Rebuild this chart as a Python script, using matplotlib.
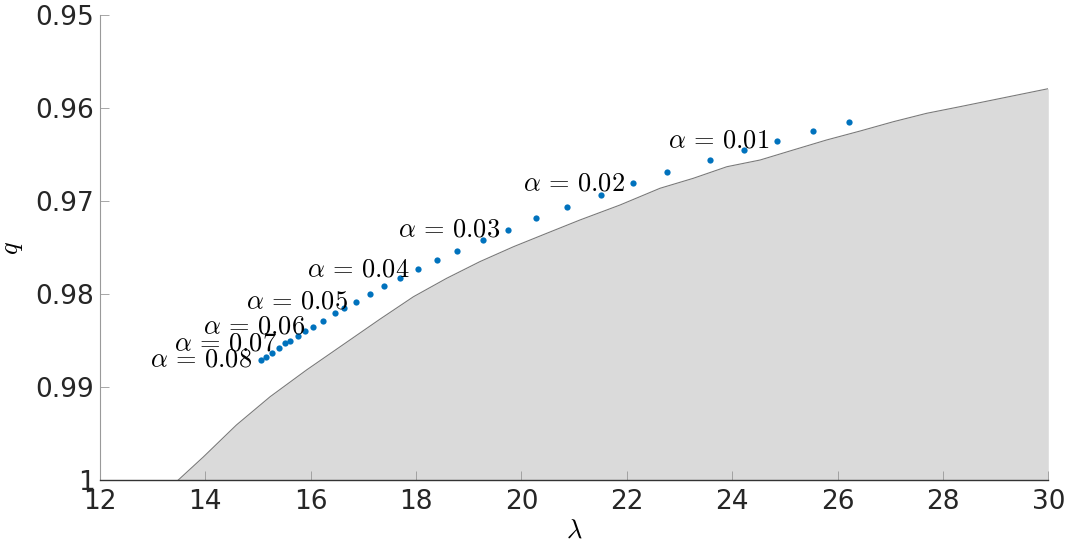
import numpy as np
import matplotlib
matplotlib.use('Agg')
import matplotlib.pyplot as plt

plt.rcParams['mathtext.fontset'] = 'cm'
plt.rcParams['font.family'] = ['DejaVu Sans']

# boundary of the shaded region (lambda, q)
bound_lam = [13.48, 13.96, 14.59, 15.23, 15.92, 17.31, 17.95, 18.58, 19.21, 19.85,
             20.48, 21.11, 21.87, 22.63, 23.26, 23.90, 24.53, 25.16, 25.79, 26.43,
             27.06, 27.69, 28.32, 30.0]
bound_q = [1.0, 0.99750, 0.99405, 0.99101, 0.98814, 0.98269, 0.98026, 0.97828, 0.97649, 0.97488,
           0.97344, 0.97201, 0.97040, 0.96860, 0.96753, 0.96628, 0.96556, 0.96448, 0.96341, 0.96244,
           0.96144, 0.96054, 0.95983, 0.95789]

# computed points (alpha from 0.08 down in steps of 0.0025)
pt_lam = [15.050, 15.151, 15.259, 15.403, 15.512, 15.607, 15.764, 15.891, 16.049, 16.227,
          16.461, 16.632, 16.859, 17.125, 17.391, 17.694, 18.042, 18.402, 18.782, 19.276,
          19.750, 20.276, 20.870, 21.504, 22.123, 22.768, 23.579, 24.224, 24.856, 25.540,
          26.223]
pt_q = [0.98706, 0.98674, 0.98628, 0.98581, 0.98527, 0.98499, 0.98445, 0.98391, 0.98348, 0.98284,
        0.98204, 0.98151, 0.98080, 0.97997, 0.97911, 0.97828, 0.97731, 0.97634, 0.97538, 0.97416,
        0.97305, 0.97183, 0.97058, 0.96932, 0.96806, 0.96689, 0.96561, 0.96448, 0.96348, 0.96244,
        0.96144]

# labelled points: index into the point lists and alpha value
label_idx = [28, 24, 20, 16, 12, 8, 4, 0]
label_alpha = ['0.01', '0.02', '0.03', '0.04', '0.05', '0.06', '0.07', '0.08']

xticks = [12, 14, 16, 18, 20, 22, 24, 26, 28, 30]
yticks = [0.95, 0.96, 0.97, 0.98, 0.99, 1.0]
yticklabels = ['0.95', '0.96', '0.97', '0.98', '0.99', '1']

fig = plt.figure(figsize=(10.7, 5.5), dpi=100)
ax = fig.add_axes([100 / 1070, 1 - 480.3 / 550, 948.3 / 1070, 465 / 550])

# shaded region
ax.fill_between(bound_lam, bound_q, 1.0, color='#dadada', linewidth=0, zorder=1)
ax.plot(bound_lam, bound_q, color='#7a7a7a', linewidth=0.8, zorder=2)

# points
ax.plot(pt_lam, pt_q, 'o', color='#0072BD', markersize=4.5, markeredgewidth=0, zorder=4)

for i, a in zip(label_idx, label_alpha):
    ax.annotate(r'$\alpha \,=\, ' + a + '$', xy=(pt_lam[i], pt_q[i]), xytext=(-6, 0),
                textcoords='offset points', ha='right', va='center',
                fontsize=19, color='black', zorder=5)

ax.set_xlim(12, 30)
ax.set_ylim(1.0, 0.95)
ax.set_xticks(xticks)
ax.set_xticklabels([str(t) for t in xticks])
ax.set_yticks(yticks)
ax.set_yticklabels(yticklabels)

ax.tick_params(axis='both', direction='in', length=6.5, width=0.6, colors='#999999',
               labelcolor='#262626', labelsize=19)
ax.tick_params(axis='x', pad=6)
ax.tick_params(axis='y', pad=4)

for s in ['top', 'right']:
    ax.spines[s].set_visible(False)
ax.spines['left'].set_color('#9a9a9a')
ax.spines['left'].set_linewidth(0.8)
ax.spines['bottom'].set_color('#333333')
ax.spines['bottom'].set_linewidth(1.0)
ax.spines['bottom'].set_zorder(3)

ax.set_xlabel(r'$\lambda$', fontsize=19, labelpad=2)
ax.set_ylabel(r'$q$', fontsize=19, labelpad=8)

fig.savefig('out.png', dpi=100)
